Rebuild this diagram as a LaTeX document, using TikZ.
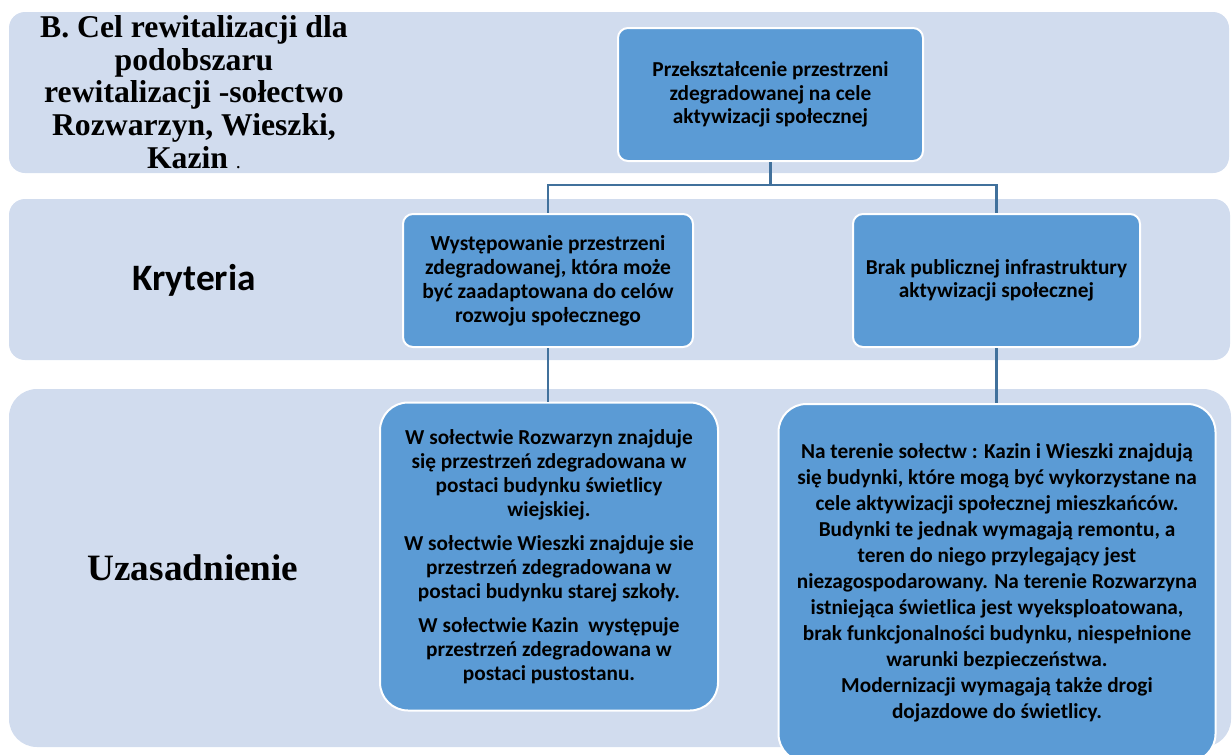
\documentclass[tikz,border=0pt]{standalone}
\usepackage{fontspec}
\setmainfont{Liberation Serif}
\newfontfamily\boxfont{Carlito}
\usetikzlibrary{positioning}

\definecolor{bandblue}{RGB}{209,220,238}
\definecolor{boxblue}{RGB}{91,155,213}
\definecolor{lineblue}{RGB}{65,113,156}

\tikzset{
    band/.style={fill=bandblue, rounded corners=16pt},
    crit/.style={rectangle, rounded corners=10pt, fill=boxblue, draw=white, line width=2pt,
        align=center, inner sep=0pt, font=\boxfont\bfseries\fontsize{21.3}{23.2}\selectfont},
    just/.style={crit, rounded corners=28pt, font=\boxfont\bfseries\fontsize{21.3}{24}\selectfont},
    rowlabel/.style={align=center, font=\bfseries\fontsize{31.7}{32.8}\selectfont},
    link/.style={draw=lineblue, line width=2.5pt}
}

\begin{document}
\begin{tikzpicture}[x=1pt, y=-1pt]
    \useasboundingbox (0,0) rectangle (1232,755);
    \clip (0,0) rectangle (1232,755);
    % background bands
    \path[band] (9,12) rectangle (1229,173);
    \path[band] (9,199) rectangle (1230,360);
    \path[band, rounded corners=28pt] (9,389) rectangle (1231,747);

    \node[rowlabel] (goal) at (194,92) {B. Cel rewitalizacji dla\\ podobszaru\\ rewitalizacji -sołectwo\\
        Rozwarzyn, Wieszki,\\ Kazin {\mdseries\fontsize{20}{20}\selectfont .}};
    \node[rowlabel, font=\boxfont\bfseries\fontsize{37.3}{40}\selectfont] (kryteria) at (194,280) {Kryteria};
    \node[rowlabel, font=\bfseries\fontsize{37.2}{40}\selectfont] (uzasad) at (193,568) {Uzasadnienie};

    % boxes
    \node[crit, minimum width=305pt, minimum height=133pt] (cel) at (770.5,94.5)
        {Przekształcenie przestrzeni\\ zdegradowanej na cele\\ aktywizacji społecznej};
    \node[crit, minimum width=290pt, minimum height=133pt, font=\boxfont\bfseries\fontsize{21.5}{24}\selectfont] (krit1) at (548,280.5)
        {Występowanie przestrzeni\\ zdegradowanej, która może\\ być zaadaptowana do celów\\ rozwoju społecznego};
    \node[crit, minimum width=287pt, minimum height=133pt] (krit2) at (996.5,280.5)
        {Brak publicznej infrastruktury\\ aktywizacji społecznej};
    \node[just, minimum width=338pt, minimum height=308pt] (uz1) at (549,556.5)
        {W sołectwie Rozwarzyn znajduje\\ się przestrzeń zdegradowana w\\ postaci budynku świetlicy\\ wiejskiej.\\[10pt]
         W sołectwie Wieszki znajduje sie\\ przestrzeń zdegradowana w\\ postaci budynku starej szkoły.\\[10pt]
         W sołectwie Kazin\ \ występuje\\ przestrzeń zdegradowana w\\ postaci pustostanu.};
    \node[just, minimum width=437pt, minimum height=358pt, font=\boxfont\bfseries\fontsize{21.3}{26}\selectfont] (uz2) at (997,583)
        {Na terenie sołectw : Kazin i Wieszki znajdują\\ się budynki, które mogą być wykorzystane na\\
         cele aktywizacji społecznej mieszkańców.\\ Budynki te jednak wymagają remontu, a\\
         teren do niego przylegający jest\\ niezagospodarowany. Na terenie Rozwarzyna\\
         istniejąca świetlica jest wyeksploatowana,\\ brak funkcjonalności budynku, niespełnione\\
         warunki bezpieczeństwa.\\ Modernizacji wymagają także drogi\\ dojazdowe do świetlicy.};

    \coordinate (bar) at (770,185);
    % connectors
    \draw[link] (cel.south) |- (krit1.north |- bar) -- (krit1.north);
    \draw[link] (cel.south) |- (krit2.north |- bar) -- (krit2.north);
    \draw[link] (krit1.south) -- (uz1.north -| krit1.south);
    \draw[link] (krit2.south) -- (uz2.north -| krit2.south);
\end{tikzpicture}
\end{document}
